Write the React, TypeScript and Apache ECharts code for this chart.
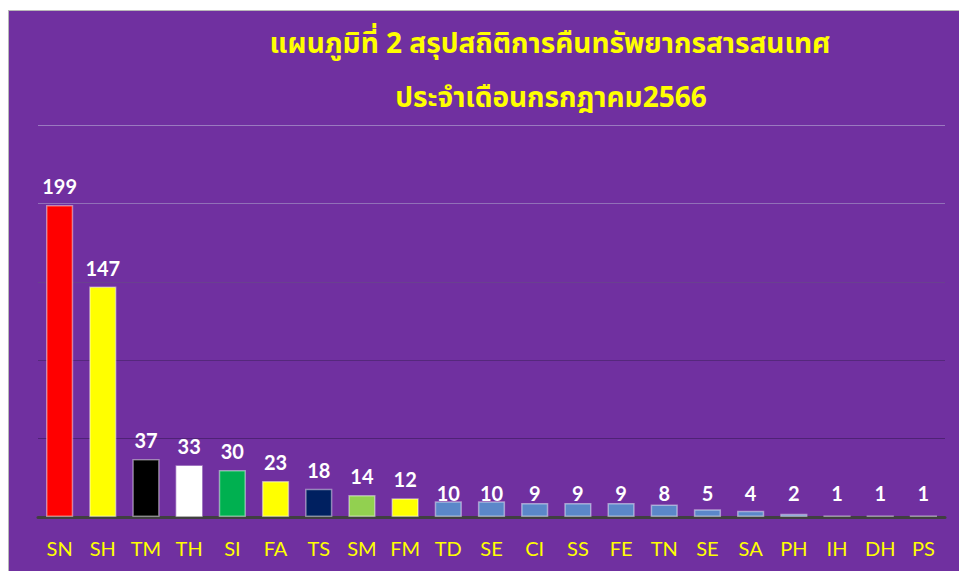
import React, { useEffect, useRef } from "react";
import * as echarts from "echarts";

const categories = ["SN", "SH", "TM", "TH", "SI", "FA", "TS", "SM", "FM", "TD", "SE", "CI", "SS", "FE", "TN", "SE", "SA", "PH", "IH", "DH", "PS"];
const values = [199, 147, 37, 33, 30, 23, 18, 14, 12, 10, 10, 9, 9, 9, 8, 5, 4, 2, 1, 1, 1];
const barColors = ["#FF0000", "#FFFF00", "#000000", "#FFFFFF", "#00B050", "#FFFF00", "#002060", "#92D050", "#FFFF00", "#5B87C9", "#5B87C9", "#5B87C9", "#5B87C9", "#5B87C9", "#5B87C9", "#5B87C9", "#5B87C9", "#5B87C9", "#5B87C9", "#5B87C9", "#5B87C9"];
const titleLine1 = "แผนภูมิที่ 2 สรุปสถิติการคืนทรัพยากรสารสนเทศ";
const titleLine2 = "ประจำเดือนกรกฎาคม2566";

export default function App() {
  const ref = useRef<HTMLDivElement>(null);
  useEffect(() => {
    if (!ref.current) return;
    const chart = echarts.init(ref.current, undefined, { renderer: "svg" });
    const data = values.map((v, i) => ({
      value: v,
      itemStyle: { color: barColors[i] },
      label: v <= 10 ? { position: "insideBottom", distance: 14 } : { position: "top", distance: 9 },
    }));
    chart.setOption({
      animation: false,
      backgroundColor: "#7030A0",
      grid: { left: 29, right: 14, top: 114, bottom: 54, containLabel: false },
      graphic: [
        {
          type: "text",
          x: 541,
          y: 33,
          style: {
            text: titleLine1,
            fill: "#FFFF00",
            font: "bold 28px 'Noto Sans Thai', 'Noto Sans', sans-serif",
            textAlign: "center",
            textVerticalAlign: "middle",
          },
        },
        {
          type: "text",
          x: 542,
          y: 87,
          style: {
            text: titleLine2,
            fill: "#FFFF00",
            font: "bold 28px 'Noto Sans Thai', 'Noto Sans', sans-serif",
            textAlign: "center",
            textVerticalAlign: "middle",
          },
        },
      ],
      xAxis: {
        type: "category",
        data: categories,
        axisTick: { show: false },
        axisLine: { show: true, lineStyle: { color: "#404040", width: 3 } },
        axisLabel: { color: "#FFFF00", fontFamily: "Lato", fontSize: 20, margin: 21 },
      },
      yAxis: {
        type: "value",
        min: 0,
        max: 250,
        interval: 50,
        axisLabel: { show: false },
        axisLine: { show: false },
        axisTick: { show: false },
        splitLine: {
          show: true,
          lineStyle: {
            width: 1,
            color: ["#4a2070", "#4f2276", "#55287c", "#6a4090", "#9170b8", "#9a7ac0"],
          },
        },
      },
      series: [
        {
          type: "bar",
          data,
          barCategoryGap: "37%",
          itemStyle: { borderColor: "rgba(255,255,255,0.45)", borderWidth: 1.5 },
          label: {
            show: true,
            color: "#FFFFFF",
            fontFamily: "Lato",
            fontWeight: "bold",
            fontSize: 20,
          },
        },
      ],
    });
    return () => chart.dispose();
  }, []);
  return (
    <div
      style={{
        position: "fixed",
        left: 8,
        top: 10,
        right: 0,
        bottom: 0,
        boxSizing: "border-box",
        borderTop: "1px solid #b8b8b8",
        borderLeft: "1px solid #b8b8b8",
        background: "#7030A0",
        overflow: "hidden",
      }}
    >
      <div ref={ref} style={{ width: 950, height: 560 }} />
    </div>
  );
}
